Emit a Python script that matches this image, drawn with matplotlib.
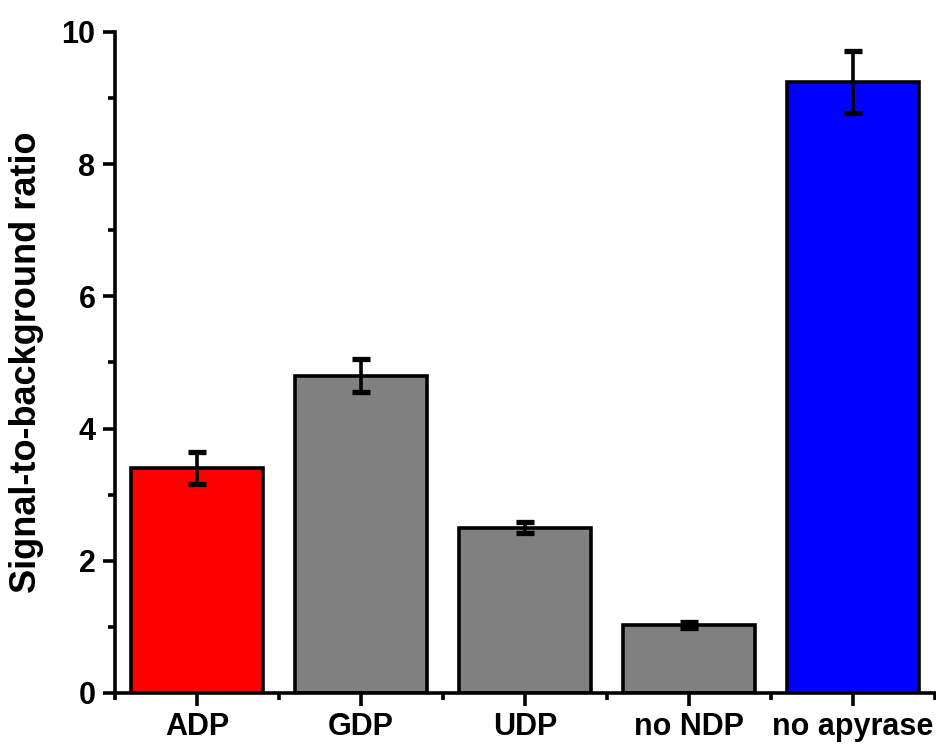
import matplotlib
matplotlib.use("Agg")
import matplotlib.pyplot as plt
from matplotlib.ticker import MultipleLocator, FixedLocator

categories = ["ADP", "GDP", "UDP", "no NDP", "no apyrase"]
values = [3.40, 4.80, 2.50, 1.03, 9.24]
errors = [0.24, 0.25, 0.08, 0.05, 0.47]
colors = ["#ff0000", "#808080", "#808080", "#808080", "#0000ff"]
yticks = [0, 2, 4, 6, 8, 10]

plt.rcParams["font.family"] = ["Liberation Sans", "DejaVu Sans"]
plt.rcParams["font.weight"] = "bold"

fig = plt.figure(figsize=(9.37, 7.47), dpi=100)
ax = fig.add_axes([0.1227, 0.0723, 0.8753, 0.8849])

x = list(range(len(categories)))
ax.bar(x, values, width=0.8, color=colors, edgecolor="black", linewidth=2.6, zorder=2)
ax.errorbar(x, values, yerr=errors, fmt="none", ecolor="black", elinewidth=2.6,
            capsize=6.5, capthick=3.8, zorder=3)

ax.set_xlim(-0.5, 4.5)
ax.set_ylim(0, 10)
ax.set_xticks(x)
ax.set_xticklabels(categories, fontsize=22, fontweight="bold")
ax.set_yticks(yticks)
ax.set_yticklabels([str(v) for v in yticks], fontsize=22, fontweight="bold")
ax.xaxis.set_minor_locator(FixedLocator([-0.5, 0.5, 1.5, 2.5, 3.5, 4.5]))
ax.yaxis.set_minor_locator(MultipleLocator(1))

ax.tick_params(axis="both", which="major", direction="out", length=9, width=2.6, pad=5)
ax.tick_params(axis="both", which="minor", direction="out", length=5, width=2.6)

for s in ["top", "right"]:
    ax.spines[s].set_visible(False)
for s in ["left", "bottom"]:
    ax.spines[s].set_linewidth(2.6)

ax.set_ylabel("Signal-to-background ratio", fontsize=26, fontweight="bold")
ax.yaxis.set_label_coords(-0.086, 0.5)

fig.savefig("out.png", dpi=100)
